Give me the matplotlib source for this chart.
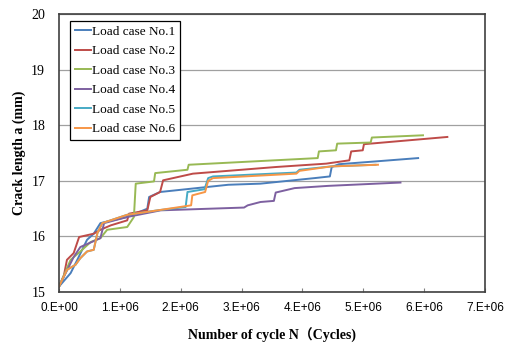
import matplotlib
matplotlib.use("Agg")
import matplotlib.pyplot as plt
import numpy as np

# crack length a (mm) vs number of cycles N (millions)
n1 = [0, 0.19, 0.30, 0.46, 0.57, 0.68, 1.12, 1.45, 1.48, 1.66, 2.78, 3.31, 4.20, 4.45, 4.48, 4.60, 5.20, 5.90]
a1 = [15.1, 15.34, 15.58, 15.94, 16.05, 16.24, 16.35, 16.50, 16.71, 16.80, 16.93, 16.95, 17.05, 17.08, 17.25, 17.30, 17.35, 17.41]

n2 = [0, 0.08, 0.13, 0.24, 0.33, 0.57, 0.68, 0.85, 1.12, 1.15, 1.45, 1.50, 1.66, 1.71, 2.20, 3.57, 4.39, 4.77, 4.80, 4.99, 5.01, 6.38]
a2 = [15.1, 15.30, 15.58, 15.70, 15.99, 16.05, 16.12, 16.20, 16.29, 16.41, 16.47, 16.71, 16.80, 17.01, 17.13, 17.25, 17.31, 17.37, 17.53, 17.55, 17.66, 17.79]

n3 = [0, 0.19, 0.35, 0.52, 0.68, 0.79, 1.12, 1.23, 1.26, 1.56, 1.58, 2.11, 2.13, 4.25, 4.27, 4.55, 4.57, 5.12, 5.14, 5.98]
a3 = [15.1, 15.58, 15.73, 15.90, 15.97, 16.12, 16.17, 16.35, 16.95, 16.99, 17.14, 17.20, 17.29, 17.41, 17.53, 17.55, 17.67, 17.69, 17.78, 17.82]

n4 = [0, 0.24, 0.35, 0.68, 0.74, 1.12, 1.67, 3.04, 3.10, 3.31, 3.53, 3.56, 3.87, 4.42, 5.61]
a4 = [15.1, 15.63, 15.81, 15.97, 16.24, 16.35, 16.47, 16.52, 16.56, 16.62, 16.64, 16.79, 16.87, 16.91, 16.97]

n5 = [0, 0.13, 0.27, 0.35, 0.46, 0.57, 0.63, 0.71, 1.12, 1.62, 2.08, 2.11, 2.39, 2.45, 2.53, 3.90, 3.95, 4.47, 5.20]
a5 = [15.1, 15.40, 15.49, 15.61, 15.73, 15.76, 16.06, 16.24, 16.39, 16.47, 16.53, 16.80, 16.85, 17.05, 17.08, 17.15, 17.20, 17.26, 17.29]

n6 = [0, 0.13, 0.27, 0.35, 0.46, 0.57, 0.63, 0.71, 1.12, 1.62, 2.17, 2.19, 2.40, 2.45, 2.53, 3.90, 3.95, 4.47, 5.24]
a6 = [15.1, 15.40, 15.49, 15.61, 15.73, 15.76, 16.06, 16.24, 16.39, 16.47, 16.56, 16.74, 16.80, 17.00, 17.05, 17.13, 17.18, 17.26, 17.29]

labels = ["Load case No.%d" % i for i in range(1, 7)]
colors = ["#4A7EBB", "#BE4B48", "#98B954", "#7D60A0", "#46AAC5", "#F79646"]
xticks = [0, 1e6, 2e6, 3e6, 4e6, 5e6, 6e6, 7e6]
xticklabels = ["0.E+00", "1.E+06", "2.E+06", "3.E+06", "4.E+06", "5.E+06", "6.E+06", "7.E+06"]

serif = ["Liberation Serif", "Noto Sans CJK SC"]

fig = plt.figure(figsize=(5.09, 3.44), dpi=100)
ax = fig.add_axes([0.116, 0.151, 0.837, 0.808])

series = [(n1, a1), (n2, a2), (n3, a3), (n4, a4), (n5, a5), (n6, a6)]
for (n, a), lab, c in zip(series, labels, colors):
    ax.plot(np.array(n) * 1e6, a, color=c, lw=1.4, label=lab)

ax.set_xlim(0, 7e6)
ax.set_ylim(15, 20)
ax.set_xticks(xticks)
ax.set_xticklabels(xticklabels, fontfamily="Liberation Sans", fontsize=8.5)
ax.set_yticks([15, 16, 17, 18, 19, 20])
ax.set_yticklabels(["15", "16", "17", "18", "19", "20"], fontfamily="Liberation Serif", fontsize=10)
ax.tick_params(axis="x", direction="in", length=3, color="#808080", pad=7)
ax.tick_params(axis="y", length=0, pad=10)
ax.yaxis.grid(True, color="#A0A0A0", lw=0.9)
ax.set_axisbelow(True)
for s in ax.spines.values():
    s.set_color("#404040")
    s.set_linewidth(1.2)

ax.set_xlabel("Number of cycle N（Cycles)", family=serif, fontweight="bold", fontsize=10, labelpad=10)
ax.set_ylabel("Crack length a (mm)", family=serif, fontweight="bold", fontsize=10, labelpad=4)

leg = ax.legend(loc="upper left", bbox_to_anchor=(0.026, 0.975), prop={"family": "Liberation Serif", "size": 9.5},
                frameon=True, fancybox=False, edgecolor="black", framealpha=1,
                handlelength=1.2, handletextpad=0.1, borderpad=0.35, labelspacing=0.55, borderaxespad=0)
leg.get_frame().set_linewidth(0.9)

fig.savefig("out.png", dpi=100)
